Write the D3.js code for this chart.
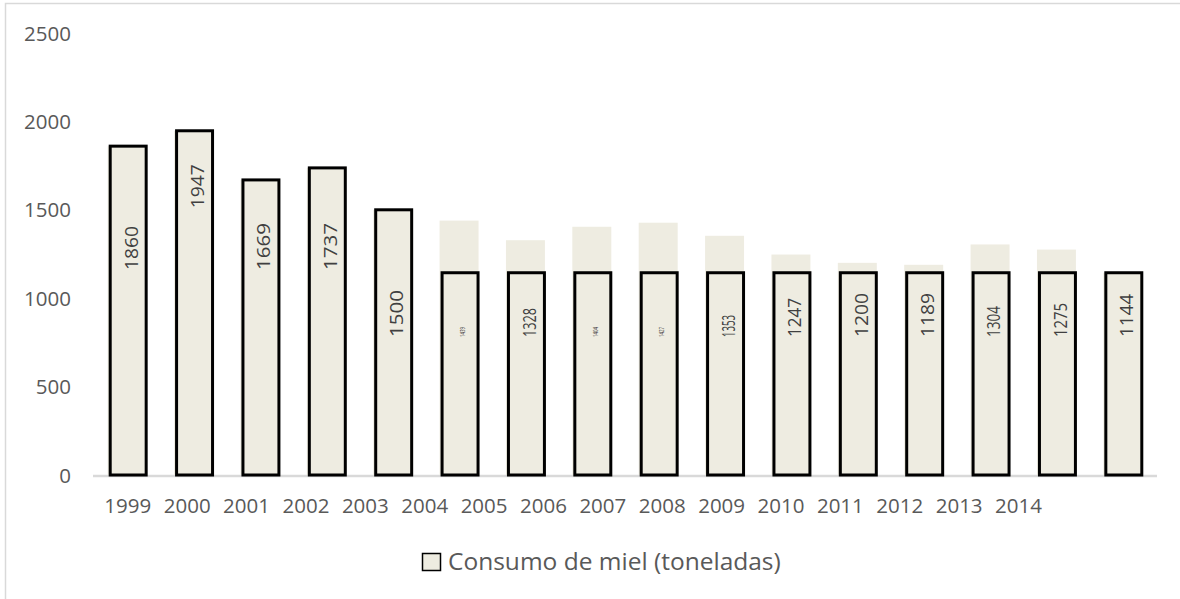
<!DOCTYPE html>
<html>
<head>
<meta charset="utf-8">
<script src="https://cdn.jsdelivr.net/npm/d3@7"></script>
<style>
  html, body { margin: 0; padding: 0; background: #ffffff; }
  svg { display: block; }
  text { font-family: "Open Sans", "Noto Sans", sans-serif; }
</style>
</head>
<body>
<svg id="chart" width="1180" height="599"></svg>
<script>
// ---- data ----
const years = ["1999","2000","2001","2002","2003","2004","2005","2006","2007","2008","2009","2010","2011","2012","2013","2014"];
const consumo = [1860,1947,1669,1737,1500,1439,1328,1404,1427,1353,1247,1200,1189,1304,1275,1144];
const contorno = [1860,1947,1669,1737,1500,1144,1144,1144,1144,1144,1144,1144,1144,1144,1144,1144];
const yTicks = [0,500,1000,1500,2000,2500];
const serieNombre = "Consumo de miel (toneladas)";

// ---- label styling (as in the source picture) ----
const labelAnchor = [1159,1509,1159,1159,781,781,781,781,781,781,781,781,781,781,781,781];
const labelLen   = [44,44,47,47,47,10,29,10,10,22,39,44,44,31,34,43];
const labelSize  = [19,19,19,19,19,7,19,7,7,18,19,19,19,19,19,19];

const svg = d3.select("#chart");
const W = 1180, H = 599;
const fill = "#EEECE1";
const textCol = "#595959";

// outer chart frame
svg.append("rect").attr("x",5.5).attr("y",3.5).attr("width",W).attr("height",H)
  .attr("fill","none").attr("stroke","#D9D9D9").attr("stroke-width",1.5);

const x = d3.scaleBand().domain(years).range([95,1157]).paddingInner(0.458).paddingOuter(0.229);
const xLab = d3.scalePoint().domain(years).range([127.3,1018]);
const y = d3.scaleLinear().domain([0,2500]).range([475,33]);

// y axis labels
const yAxis = d3.axisLeft(y).tickValues(yTicks).tickFormat(d3.format("d")).tickSize(0).tickPadding(0);
const gy = svg.append("g").attr("transform","translate(71,0)").call(yAxis);
gy.select(".domain").remove();
gy.selectAll("text").attr("font-size",20.5).attr("fill",textCol)
  .style("font-family",'"Open Sans", sans-serif').attr("dy","0.35em");

// baseline
svg.append("line").attr("x1",93).attr("x2",1157).attr("y1",476).attr("y2",476)
  .attr("stroke","#D9D9D9").attr("stroke-width",2.5);

// light full-value bars
svg.append("g").selectAll("rect").data(years).join("rect")
  .attr("x",d=>x(d)-2.5).attr("width",x.bandwidth()+3)
  .attr("y",(d,i)=>y(consumo[i])).attr("height",(d,i)=>y(0)-y(consumo[i]))
  .attr("fill",fill);

// outlined bars
svg.append("g").selectAll("rect").data(years).join("rect")
  .attr("x",d=>x(d)).attr("width",x.bandwidth())
  .attr("y",(d,i)=>y(contorno[i])).attr("height",(d,i)=>y(0)-y(contorno[i]))
  .attr("fill",fill).attr("stroke","#000").attr("stroke-width",3);

// value labels (rotated)
svg.append("g").selectAll("text").data(years).join("text")
  .attr("transform",(d,i)=>`translate(${x(d)+x.bandwidth()/2+2.5},${y(labelAnchor[i])}) rotate(-90)`)
  .attr("text-anchor","start")
  .attr("dy","0.36em")
  .attr("font-size",(d,i)=>labelSize[i])
  .attr("textLength",(d,i)=>labelLen[i])
  .attr("lengthAdjust","spacingAndGlyphs")
  .attr("fill","#404040")
  .text((d,i)=>consumo[i]);

// x labels (misaligned, as in the source)
const xAxis = d3.axisBottom(xLab).tickSize(0).tickPadding(0);
const gx = svg.append("g").attr("transform","translate(0,513.3)").call(xAxis);
gx.select(".domain").remove();
gx.selectAll("text").attr("font-size",20.5).attr("fill",textCol)
  .style("font-family",'"Open Sans", sans-serif').attr("dy","0");

// legend
const lg = svg.append("g");
lg.append("rect").attr("x",422.5).attr("y",553.5).attr("width",18).attr("height",17)
  .attr("fill",fill).attr("stroke","#000").attr("stroke-width",1.5);
lg.append("text").attr("x",448).attr("y",570).attr("font-size",24.5).attr("fill",textCol)
  .text(serieNombre);
</script>
</body>
</html>
